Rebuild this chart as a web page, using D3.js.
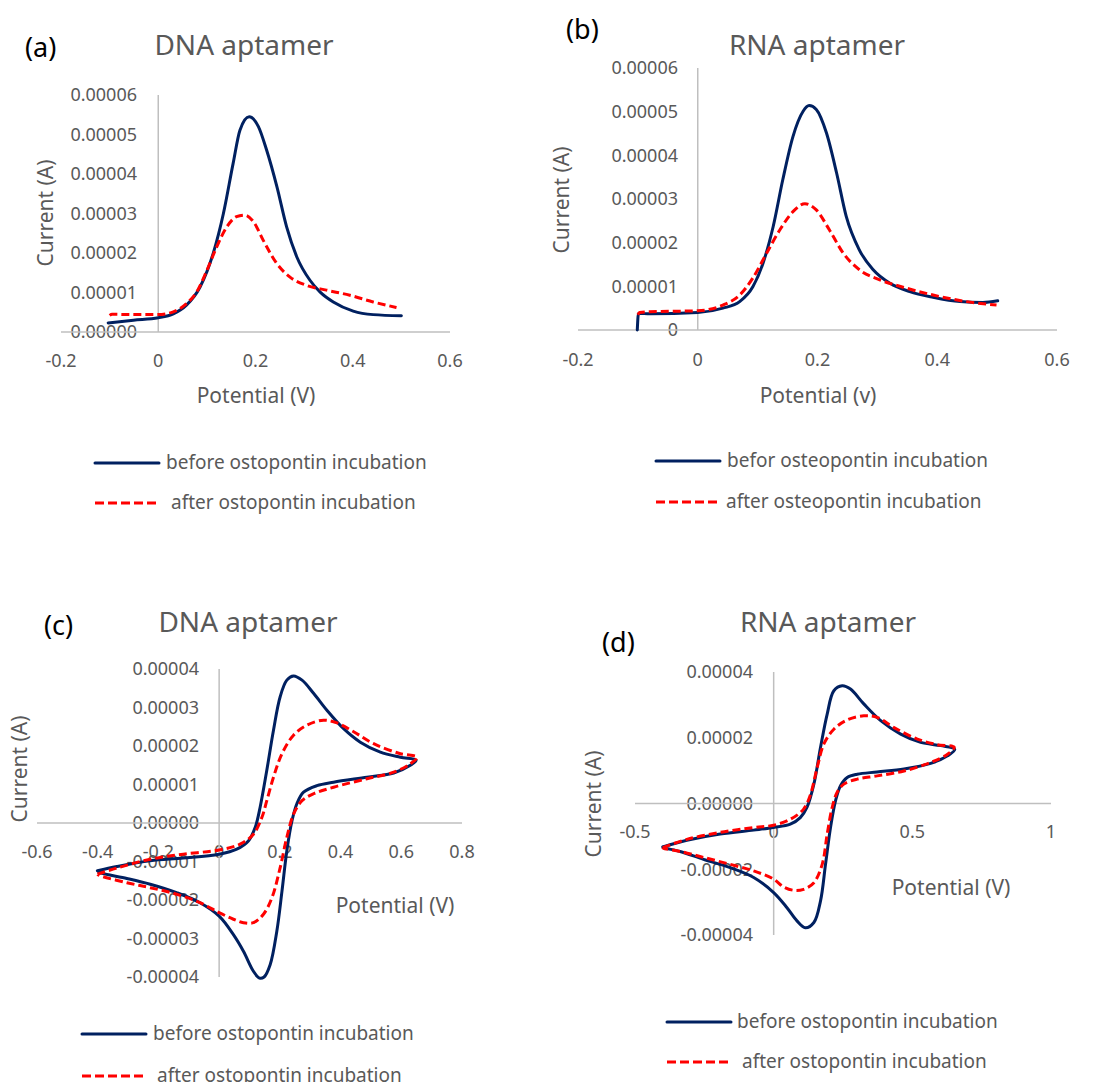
<!DOCTYPE html>
<html><head><meta charset="utf-8">
<script src="https://cdn.jsdelivr.net/npm/d3@7"></script>
<style>
body{margin:0;background:#fff}
svg{display:block;background:#fff}
text{font-family:"Noto Sans","Open Sans",sans-serif}
</style>
</head><body>
<svg id="chart" width="1096" height="1082"></svg>
<script>
// ---------------- DATA ----------------
// Panel (a) DNA aptamer, DPV: [potential V, current A]
const aBefore = [[-0.103,2.3e-6],[-0.051,3.0e-6],[0,3.6e-6],[0.031,4.6e-6],[0.058,6.8e-6],[0.086,1.14e-5],[0.113,1.99e-5],[0.134,3.0e-5],[0.154,4.27e-5],[0.168,5.11e-5],[0.187,5.45e-5],[0.206,5.2e-5],[0.223,4.6e-5],[0.244,3.68e-5],[0.264,2.66e-5],[0.285,1.9e-5],[0.312,1.31e-5],[0.333,1.01e-5],[0.36,7.6e-6],[0.401,5.3e-6],[0.442,4.4e-6],[0.5,4.1e-6]];
const aAfter = [[-0.1,4.2e-6],[-0.095,4.5e-6],[-0.05,4.4e-6],[0,4.4e-6],[0.031,5.1e-6],[0.058,7.2e-6],[0.079,1.01e-5],[0.1,1.56e-5],[0.12,2.15e-5],[0.141,2.66e-5],[0.161,2.92e-5],[0.178,2.96e-5],[0.196,2.79e-5],[0.216,2.32e-5],[0.244,1.73e-5],[0.271,1.39e-5],[0.305,1.18e-5],[0.346,1.06e-5],[0.394,9.3e-6],[0.442,7.6e-6],[0.49,6.2e-6]];
// Panel (b) RNA aptamer, DPV
const bBefore = [[-0.101,0],[-0.099,3.8e-6],[-0.08,3.7e-6],[0,4.0e-6],[0.042,5.0e-6],[0.07,6.5e-6],[0.092,9.9e-6],[0.109,1.53e-5],[0.126,2.37e-5],[0.142,3.44e-5],[0.159,4.43e-5],[0.176,5.01e-5],[0.186,5.14e-5],[0.198,5.05e-5],[0.215,4.51e-5],[0.232,3.59e-5],[0.248,2.6e-5],[0.27,1.83e-5],[0.293,1.38e-5],[0.321,1.07e-5],[0.354,8.8e-6],[0.393,7.5e-6],[0.438,6.5e-6],[0.476,6.3e-6],[0.501,6.7e-6]];
const bAfter = [[-0.1,3.5e-6],[-0.097,4.0e-6],[-0.08,4.2e-6],[0,4.4e-6],[0.042,5.7e-6],[0.07,8.0e-6],[0.092,1.19e-5],[0.115,1.76e-5],[0.137,2.29e-5],[0.159,2.71e-5],[0.179,2.89e-5],[0.198,2.75e-5],[0.22,2.29e-5],[0.243,1.76e-5],[0.27,1.38e-5],[0.304,1.15e-5],[0.348,9.6e-6],[0.393,8.0e-6],[0.449,6.5e-6],[0.499,5.7e-6]];
// Panel (c) DNA aptamer, CV loop (forward then reverse scan)
const cBefore = [[-0.401,-1.24e-5],[-0.337,-1.13e-5],[-0.227,-9.8e-6],[-0.118,-9.1e-6],[0,-8.1e-6],[0.058,-6.8e-6],[0.097,-4.6e-6],[0.119,-1.1e-6],[0.135,4.1e-6],[0.157,1.37e-5],[0.179,2.41e-5],[0.201,3.28e-5],[0.223,3.71e-5],[0.245,3.82e-5],[0.273,3.71e-5],[0.311,3.37e-5],[0.355,2.93e-5],[0.41,2.45e-5],[0.465,2.1e-5],[0.531,1.84e-5],[0.597,1.71e-5],[0.649,1.63e-5],[0.63,1.5e-5],[0.575,1.3e-5],[0.487,1.19e-5],[0.377,1.06e-5],[0.322,9.7e-6],[0.278,8.0e-6],[0.256,5.0e-6],[0.24,6e-7],[0.223,-7.2e-6],[0.207,-1.77e-5],[0.19,-2.81e-5],[0.168,-3.68e-5],[0.148,-4.0e-5],[0.133,-4.03e-5],[0.113,-3.85e-5],[0.08,-3.33e-5],[0.047,-2.9e-5],[0,-2.42e-5],[-0.063,-2.07e-5],[-0.14,-1.81e-5],[-0.227,-1.59e-5],[-0.304,-1.44e-5],[-0.392,-1.29e-5],[-0.401,-1.24e-5]];
const cAfter = [[-0.401,-1.33e-5],[-0.337,-1.17e-5],[-0.227,-9.4e-6],[-0.118,-8.1e-6],[0,-7.0e-6],[0.069,-5.5e-6],[0.113,-2.9e-6],[0.141,1.5e-6],[0.157,5.8e-6],[0.179,1.19e-5],[0.207,1.8e-5],[0.245,2.28e-5],[0.289,2.54e-5],[0.344,2.67e-5],[0.388,2.6e-5],[0.443,2.37e-5],[0.509,2.06e-5],[0.597,1.8e-5],[0.652,1.71e-5],[0.63,1.54e-5],[0.575,1.32e-5],[0.487,1.15e-5],[0.377,9.3e-6],[0.311,7.6e-6],[0.273,5.8e-6],[0.245,2.3e-6],[0.223,-3.7e-6],[0.201,-1.16e-5],[0.174,-1.94e-5],[0.146,-2.37e-5],[0.113,-2.59e-5],[0.08,-2.59e-5],[0.047,-2.5e-5],[0,-2.33e-5],[-0.063,-2.07e-5],[-0.14,-1.85e-5],[-0.227,-1.68e-5],[-0.304,-1.55e-5],[-0.392,-1.37e-5],[-0.401,-1.33e-5]];
// Panel (d) RNA aptamer, CV loop
const dBefore = [[-0.4,-1.32e-5],[-0.313,-1.12e-5],[-0.193,-9.3e-6],[-0.072,-8.1e-6],[0,-7.3e-6],[0.06,-6.3e-6],[0.096,-4.3e-6],[0.12,-1.2e-6],[0.145,5.9e-6],[0.169,1.71e-5],[0.193,2.72e-5],[0.217,3.43e-5],[0.247,3.58e-5],[0.277,3.48e-5],[0.325,3.03e-5],[0.386,2.52e-5],[0.458,2.11e-5],[0.53,1.86e-5],[0.602,1.76e-5],[0.653,1.65e-5],[0.627,1.45e-5],[0.566,1.22e-5],[0.47,1.05e-5],[0.373,9.6e-6],[0.301,8.9e-6],[0.265,7.9e-6],[0.241,5.4e-6],[0.223,8e-7],[0.205,-7.3e-6],[0.187,-1.85e-5],[0.169,-2.96e-5],[0.145,-3.62e-5],[0.114,-3.78e-5],[0.084,-3.57e-5],[0.048,-3.17e-5],[0,-2.71e-5],[-0.072,-2.25e-5],[-0.157,-1.95e-5],[-0.253,-1.7e-5],[-0.337,-1.46e-5],[-0.398,-1.34e-5],[-0.4,-1.32e-5]];
const dAfter = [[-0.4,-1.34e-5],[-0.313,-1.09e-5],[-0.193,-8.8e-6],[-0.072,-7.3e-6],[0,-6.6e-6],[0.06,-4.8e-6],[0.108,-1.7e-6],[0.133,2.8e-6],[0.157,1.1e-5],[0.181,1.81e-5],[0.217,2.26e-5],[0.265,2.54e-5],[0.325,2.67e-5],[0.373,2.62e-5],[0.434,2.31e-5],[0.518,1.96e-5],[0.59,1.79e-5],[0.651,1.71e-5],[0.627,1.5e-5],[0.566,1.25e-5],[0.47,9.9e-6],[0.373,8.4e-6],[0.301,7.4e-6],[0.253,5.9e-6],[0.229,3.4e-6],[0.211,-1.2e-6],[0.193,-9.3e-6],[0.175,-1.85e-5],[0.145,-2.41e-5],[0.108,-2.61e-5],[0.072,-2.64e-5],[0.036,-2.54e-5],[0,-2.3e-5],[-0.072,-2.05e-5],[-0.157,-1.85e-5],[-0.253,-1.64e-5],[-0.337,-1.46e-5],[-0.398,-1.36e-5],[-0.4,-1.34e-5]];

// Tick values and labels
const abXTicks = [-0.2, 0, 0.2, 0.4, 0.6];
const abXLabels = ["-0.2", "0", "0.2", "0.4", "0.6"];
const abYTicks = [0, 1e-5, 2e-5, 3e-5, 4e-5, 5e-5, 6e-5];
const aYLabels = ["0.00000", "0.00001", "0.00002", "0.00003", "0.00004", "0.00005", "0.00006"];
const bYLabels = ["0", "0.00001", "0.00002", "0.00003", "0.00004", "0.00005", "0.00006"];
const cXTicks = [-0.6, -0.4, -0.2, 0, 0.2, 0.4, 0.6, 0.8];
const cXLabels = ["-0.6", "-0.4", "-0.2", "0", "0.2", "0.4", "0.6", "0.8"];
const cYTicks = [-4e-5, -3e-5, -2e-5, -1e-5, 0, 1e-5, 2e-5, 3e-5, 4e-5];
const cYLabels = ["-0.00004", "-0.00003", "-0.00002", "-0.00001", "0.00000", "0.00001", "0.00002", "0.00003", "0.00004"];
const dXTicks = [-0.5, 0, 0.5, 1];
const dXLabels = ["-0.5", "0", "0.5", "1"];
const dYTicks = [-4e-5, -2e-5, 0, 2e-5, 4e-5];
const dYLabels = ["-0.00004", "-0.00002", "0.00000", "0.00002", "0.00004"];

const panelLabels = ["(a)", "(b)", "(c)", "(d)"];
const titles = ["DNA aptamer", "RNA aptamer", "DNA aptamer", "RNA aptamer"];
const xTitles = ["Potential (V)", "Potential (v)", "Potential (V)", "Potential (V)"];
const yTitle = "Current (A)";
const legendBefore = ["before ostopontin incubation", "befor osteopontin incubation", "before ostopontin incubation", "before ostopontin incubation"];
const legendAfter = ["after ostopontin incubation", "after osteopontin incubation", "after ostopontin incubation", "after ostopontin incubation"];

// ---------------- LAYOUT ----------------
const NAVY = "#002060", RED = "#FF0000", GRAY = "#595959", AXIS = "#BFBFBF";
const svg = d3.select("#chart");

const panels = [
  { before: aBefore, after: aAfter, xd: [-0.2, 0.6], xr: [61, 450], yd: [0, 6e-5], yr: [332, 95],
    xt: abXTicks, xl: abXLabels, yt: abYTicks, yl: aYLabels, cv: false,
    yLabX: 137, xLabY: 367,
    lab: [25, 57], title: [244, 55], xTitle: [256, 403], yTitlePos: [53, 213],
    leg: { lx: 95, tx: 166, y1: 463, y2: 503, tx2: 171 } },
  { before: bBefore, after: bAfter, xd: [-0.2, 0.6], xr: [578, 1057], yd: [0, 6e-5], yr: [330, 68],
    xt: abXTicks, xl: abXLabels, yt: abYTicks, yl: bYLabels, cv: false,
    yLabX: 678, xLabY: 366,
    lab: [566, 39], title: [817, 55], xTitle: [818, 403], yTitlePos: [569, 200],
    leg: { lx: 656, tx: 727, y1: 461, y2: 502, tx2: 726 } },
  { before: cBefore, after: cAfter, xd: [-0.6, 0.8], xr: [37, 462], yd: [-4e-5, 4e-5], yr: [977, 669],
    xt: cXTicks, xl: cXLabels, yt: cYTicks, yl: cYLabels, cv: true,
    yLabX: 199, xLabY: 858,
    lab: [44, 635], title: [248, 632], xTitle: [395, 913], yTitlePos: [27, 769],
    leg: { lx: 82, tx: 153, y1: 1034, y2: 1076, tx2: 157 } },
  { before: dBefore, after: dAfter, xd: [-0.5, 1], xr: [635, 1051], yd: [-4e-5, 4e-5], yr: [935, 672],
    xt: dXTicks, xl: dXLabels, yt: dYTicks, yl: dYLabels, cv: true,
    yLabX: 753, xLabY: 838,
    lab: [602, 652], title: [828, 632], xTitle: [951, 895], yTitlePos: [601, 804],
    leg: { lx: 667, tx: 737, y1: 1022, y2: 1062, tx2: 742 } }
];

panels.forEach((p, i) => {
  const g = svg.append("g");
  const x = d3.scaleLinear().domain(p.xd).range(p.xr);
  const y = d3.scaleLinear().domain(p.yd).range(p.yr);

  // tick labels (drawn under lines)
  g.selectAll(".yl").data(p.yt).join("text")
    .attr("x", p.yLabX).attr("y", d => y(d)).attr("dy", "0.36em")
    .attr("text-anchor", "end").attr("font-size", 18).attr("fill", GRAY)
    .text((d, k) => p.yl[k]);
  g.selectAll(".xl").data(p.xt).join("text")
    .attr("x", d => x(d)).attr("y", p.xLabY)
    .attr("text-anchor", "middle").attr("font-size", 18).attr("fill", GRAY)
    .text((d, k) => p.xl[k]);

  // axis lines crossing at zero
  const y0 = y(0), x0 = x(0);
  g.append("line").attr("x1", p.xr[0]).attr("x2", p.xr[1]).attr("y1", y0).attr("y2", y0)
    .attr("stroke", AXIS).attr("stroke-width", 1.5);
  g.append("line").attr("x1", x0).attr("x2", x0).attr("y1", p.yr[0]).attr("y2", p.yr[1])
    .attr("stroke", AXIS).attr("stroke-width", 1.5);

  // curves
  const line = d3.line().x(d => x(d[0])).y(d => y(d[1]))
    .curve(p.cv ? d3.curveCatmullRom.alpha(0.5) : d3.curveMonotoneX);
  g.append("path").datum(p.before).attr("d", line)
    .attr("fill", "none").attr("stroke", NAVY).attr("stroke-width", 3)
    .attr("stroke-linejoin", "round").attr("stroke-linecap", "round");
  g.append("path").datum(p.after).attr("d", line)
    .attr("fill", "none").attr("stroke", RED).attr("stroke-width", 3)
    .attr("stroke-dasharray", "8,4");

  // texts
  svg.append("text").attr("x", p.lab[0]).attr("y", p.lab[1]).attr("font-size", 27)
    .attr("fill", "#000").text(panelLabels[i]);
  svg.append("text").attr("x", p.title[0]).attr("y", p.title[1]).attr("font-size", 28)
    .attr("text-anchor", "middle").attr("fill", GRAY).text(titles[i]);
  svg.append("text").attr("x", p.xTitle[0]).attr("y", p.xTitle[1]).attr("font-size", 21)
    .attr("text-anchor", "middle").attr("fill", GRAY).text(xTitles[i]);
  svg.append("text").attr("transform", `translate(${p.yTitlePos[0]},${p.yTitlePos[1]}) rotate(-90)`)
    .attr("font-size", 21).attr("text-anchor", "middle").attr("fill", GRAY).text(yTitle);

  // legend
  const L = p.leg;
  svg.append("line").attr("x1", L.lx).attr("x2", L.lx + 64).attr("y1", L.y1).attr("y2", L.y1)
    .attr("stroke", NAVY).attr("stroke-width", 3).attr("stroke-linecap", "round");
  svg.append("text").attr("x", L.tx).attr("y", L.y1).attr("dy", "0.33em").attr("font-size", 19)
    .attr("fill", GRAY).text(legendBefore[i]);
  svg.append("line").attr("x1", L.lx).attr("x2", L.lx + 64).attr("y1", L.y2).attr("y2", L.y2)
    .attr("stroke", RED).attr("stroke-width", 3).attr("stroke-dasharray", "9,4");
  svg.append("text").attr("x", L.tx2).attr("y", L.y2).attr("dy", "0.33em").attr("font-size", 19)
    .attr("fill", GRAY).text(legendAfter[i]);
});
</script>
</body></html>
